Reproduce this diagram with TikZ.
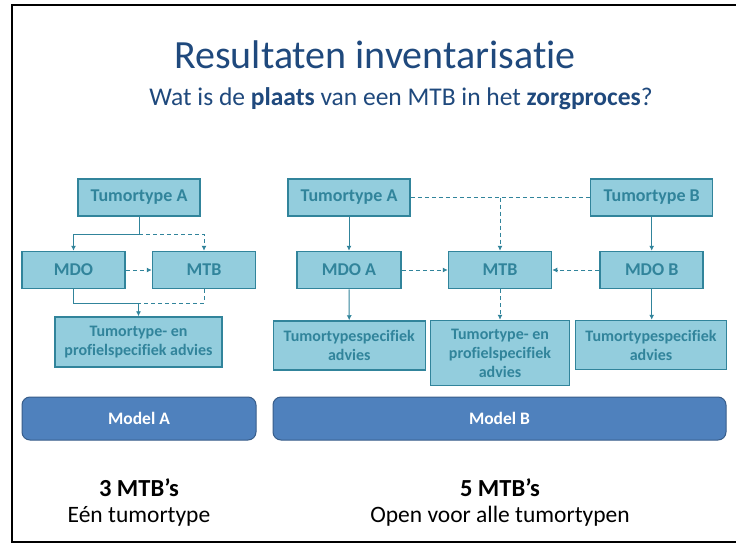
\documentclass[tikz,border=0pt]{standalone}
\usepackage{fontspec}
\setmainfont{Carlito}[Ligatures={NoCommon,NoRequired,NoContextual},RawFeature={-calt;-dlig}]
\usetikzlibrary{arrows.meta}
\definecolor{boxfill}{HTML}{93CDDD}
\definecolor{boxline}{HTML}{31849B}
\definecolor{titleblue}{HTML}{1F497D}
\definecolor{modelfill}{HTML}{4F81BD}
\definecolor{modelline}{HTML}{385D8A}
\begin{document}
\begin{tikzpicture}[x=1pt,y=-1pt,
 box/.style={draw=boxline, line width=1.5pt, fill=boxfill, text=boxline, font=\bfseries\fontsize{18}{20}\selectfont, align=center, inner sep=0pt},
 advbox/.style={box, font=\bfseries\fontsize{16}{19}\selectfont},
 conn/.style={draw=boxline, line width=0.9pt},
 arr/.style={-{Latex[length=5pt,width=5pt]}},
 dsh/.style={dash pattern=on 4pt off 3pt},
 model/.style={draw=modelline, line width=1pt, fill=modelfill, rounded corners=8pt, text=white, font=\bfseries\fontsize{17.5}{20}\selectfont, inner sep=0pt},
 bigtxt/.style={font=\fontsize{23.5}{28}\selectfont, inner sep=0pt, anchor=base},
 bigbold/.style={bigtxt, font=\bfseries\fontsize{24.5}{28}\selectfont}
]
\useasboundingbox (0,0) rectangle (736,546);
\fill[white] (0,0) rectangle (736,546);
\draw[black, line width=2pt] (745,5) -- (12,5) -- (12,542) -- (745,542);

% title
\node[text=titleblue, font=\fontsize{40}{44}\selectfont, inner sep=0pt, anchor=base] (title) at (375,68.5) {Resultaten inventarisat\kern0pt ie};
\node[text=titleblue, font=\fontsize{25.5}{28}\selectfont, inner sep=0pt, anchor=base] (sub) at (401,105) {Wat is de \textbf{plaats} van een MTB in het \textbf{zorgproces}?};

% Model A
\node[box, minimum width=122pt, minimum height=37pt] (tA) at (139,197.5) {Tumortype A};
\node[box, minimum width=103pt, minimum height=37pt] (mdo) at (73.5,270) {MDO};
\node[box, minimum width=103pt, minimum height=37pt] (mtb) at (204,270) {MTB};
\node[advbox, minimum width=167pt, minimum height=50pt] (adv) at (138.5,342) {Tumortype- en\\profielspecifiek advies};

\coordinate (jA) at (139,234);
\coordinate (jB) at (138.5,303);
\draw[conn] (tA.south) -- (jA);
\draw[conn,arr] (jA) -| (mdo.north);
\draw[conn,dsh,arr] (jA) -| (mtb.north);
\draw[conn,dsh,arr] (mdo) -- (mtb);
\draw[conn] (mdo.south) |- (jB);
\draw[conn,dsh] (mtb.south) |- (jB);
\draw[conn,arr] (jB) -- (adv.north);

% Model B
\node[box, minimum width=122pt, minimum height=37pt] (tA2) at (349,197.5) {Tumortype A};
\node[box, minimum width=122pt, minimum height=37pt] (tB2) at (651.7,197.5) {Tumortype B};
\node[box, minimum width=104pt, minimum height=37pt] (mdoA) at (349,270) {MDO A};
\node[box, minimum width=103pt, minimum height=37pt] (mtb2) at (500,270) {MTB};
\node[box, minimum width=103pt, minimum height=37pt] (mdoB) at (651.7,270) {MDO B};
\node[advbox, minimum width=152pt, minimum height=49pt] (advA) at (349.3,345.5) {Tumortypespecifiek\\advies};
\node[advbox, minimum width=139pt, minimum height=65pt] (advM) at (500,353) {Tumortype- en\\profielspecifiek\\advies};
\node[advbox, minimum width=151pt, minimum height=49pt] (advB) at (651,345) {Tumortypespecifiek\\advies};

\coordinate (jC) at (500,197.5);
\draw[conn,dsh] (tA2.east) -- (tB2.west);
\draw[conn,dsh,arr] (jC) -- (mtb2.north);
\draw[conn,arr] (tA2) -- (mdoA);
\draw[conn,arr] (tB2) -- (mdoB);
\draw[conn,dsh,arr] (mdoA) -- (mtb2);
\draw[conn,dsh,arr] (mdoB) -- (mtb2);
\draw[conn,arr] (mdoA) -- (advA);
\draw[conn,dsh,arr] (mtb2) -- (advM);
\draw[conn,arr] (mdoB.south) -- (mdoB.south |- advB.north);

% model bars
\node[model, minimum width=234pt, minimum height=43pt] (mA) at (139,418.5) {Model A};
\node[model, minimum width=453pt, minimum height=43pt] (mB) at (499.5,418.5) {Model B};

% bottom texts
\node[bigbold] (n3) at (139,496) {3 MTB’s};
\node[bigtxt] (e3) at (139,522.5) {Eén tumortype};
\node[bigbold] (n5) at (500,496) {5 MTB’s};
\node[bigtxt] (e5) at (500,522.5) {Open voor alle tumortypen};
\end{tikzpicture}
\end{document}
